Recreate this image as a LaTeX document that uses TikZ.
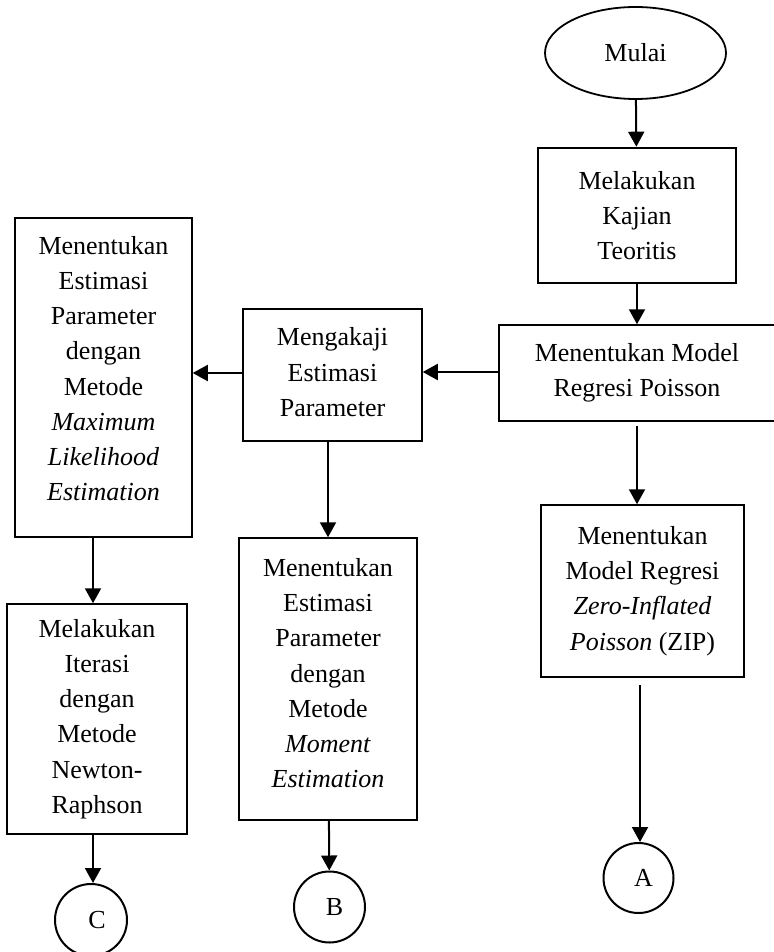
\documentclass[tikz,border=0pt]{standalone}
\usepackage{fontspec}
\setmainfont{Liberation Serif}
\usetikzlibrary{shapes.geometric,arrows.meta,calc,positioning}

\begin{document}
\begin{tikzpicture}[x=0.5pt,y=-0.5pt,
		every node/.style={font=\fontsize{13}{17.6}\selectfont, align=center, inner sep=0pt},
		my box/.style={draw, rectangle, line width=0.75pt},
		my start/.style={draw, ellipse, line width=0.9pt, minimum width=90.5pt, minimum height=46pt},
		my conn/.style={draw, circle, line width=1pt},
		my arrow/.style={-{Triangle[width=8pt,length=7.5pt]}, line width=1pt},
	]
		\useasboundingbox (0,0) rectangle (773,952);
		% right column
		\node[my start] (mulai) at (635.5,53) {Mulai};
		\node[my box, line width=1.3pt, minimum width=99pt, minimum height=67.5pt] (kajian) at (637,215.5) {Melakukan\\Kajian\\Teoritis};
		\node[my box, minimum width=138pt, minimum height=48pt] (poisson) at (637,373) {Menentukan Model\\Regresi Poisson};
		\node[my box, minimum width=101.5pt, minimum height=86pt] (zip) at (642.5,591) {Menentukan\\Model Regresi\\\textit{Zero-Inflated}\\\textit{Poisson} (ZIP)};
		\node[my conn, minimum size=35pt] (a) at (638.5,878) {\hspace{5pt}A};
		% middle column
		\node[my box, minimum width=89.5pt, minimum height=66pt] (kaji) at (332.5,375) {Mengakaji\\Estimasi\\Parameter\\[-14.6pt]};
		\node[my box, minimum width=89pt, minimum height=141pt] (moment) at (328,679) {Menentukan\\Estimasi\\Parameter\\dengan\\Metode\\\textit{Moment}\\\textit{Estimation}\\[-11.6pt]};
		\node[my conn, minimum size=35.5pt] (b) at (329.5,907) {\hspace{5pt}\raisebox{-1.5pt}{B}};
		% left column
		\node[my box, minimum width=88.5pt, minimum height=159.5pt] (mle) at (103.5,377.5) {Menentukan\\Estimasi\\Parameter\\dengan\\Metode\\\textit{Maximum}\\\textit{Likelihood}\\\textit{Estimation}\\[-8.6pt]};
		\node[my box, minimum width=90pt, minimum height=115pt] (iterasi) at (97,719) {Melakukan\\Iterasi\\dengan\\Metode\\Newton-\\Raphson};
		\node[my conn, minimum size=36pt] (c) at (91,920) {\hspace{6pt}\raisebox{-1.5pt}{C}};
		%
		\draw[my arrow] (mulai) -- (kajian);
		\draw[my arrow] (kajian) -- (poisson);
		\draw[my arrow] (poisson.west |- 0,372) -- (kaji.east |- 0,372);
		\draw[my arrow] (kaji.west |- 0,373) -- (mle.east |- 0,373);
		\draw[my arrow] (mle.south -| 93,0) -- (iterasi.north -| 93,0);
		\draw[my arrow] (iterasi.south -| 93,0) -- (c.north -| 93,0);
		\draw[my arrow] (kaji.south -| moment.north) -- (moment.north);
		\draw[my arrow] (moment) -- (b);
		\draw[my arrow, shorten <=2pt] (poisson) -- (poisson |- zip.north);
		\draw[my arrow, shorten <=3.5pt] (zip.south -| 640,0) -- (a.north -| 640,0);
\end{tikzpicture}
\end{document}
